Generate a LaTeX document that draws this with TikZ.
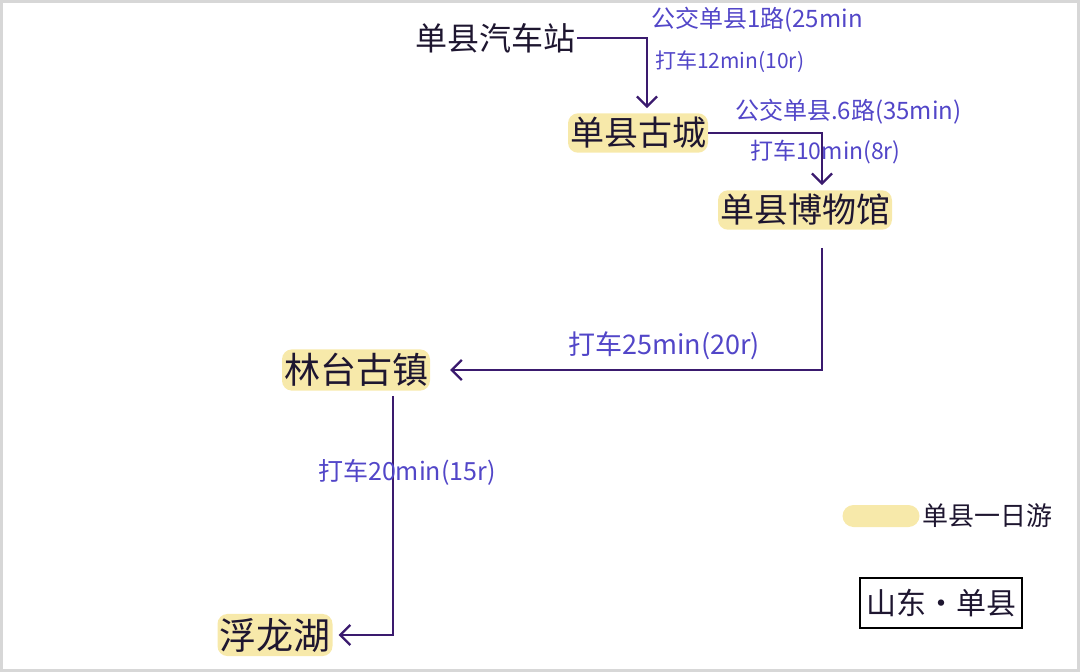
\documentclass[tikz,border=0pt]{standalone}
\usepackage{fontspec}
\setmainfont{Noto Sans CJK SC}
\usetikzlibrary{arrows.meta}
\definecolor{ink}{RGB}{30,22,48}
\definecolor{pen}{RGB}{82,70,200}
\definecolor{linec}{RGB}{58,26,110}
\definecolor{hl}{RGB}{247,233,170}
\definecolor{framec}{RGB}{215,215,215}
\begin{document}
\begin{tikzpicture}[x=1pt,y=-1pt,
  place/.style={text=ink,font=\fontsize{34}{36}\selectfont,inner xsep=2pt,inner ysep=4pt},
  hplace/.style={place,fill=hl,rounded corners=10pt},
  lbl/.style={text=pen,inner sep=0pt,anchor=west},
  conn/.style={draw=linec,line width=2.3pt,-{Straight Barb[length=10pt,width=20pt,line width=2.3pt]}}]
\useasboundingbox (0,0) rectangle (1080,672);
\draw[draw=framec,line width=3pt] (1.5,1.5) rectangle (1078.5,670.5);
% places
\node[place,font=\fontsize{32}{34}\selectfont] (station) at (495,38) {单县汽车站};
\node[hplace] (oldcity) at (638,133) {单县古城};
\node[hplace] (museum) at (805,210) {单县博物馆};
\node[hplace,font=\fontsize{36}{38}\selectfont] (lintai) at (356,370) {林台古镇};
\node[hplace,font=\fontsize{37}{39}\selectfont] (fulong) at (275,635) {浮龙湖};
% connectors
\draw[conn] (station.east) -| ([xshift=9pt,yshift=5pt]oldcity.north);
\draw[conn] (oldcity.east) -| ([xshift=17pt,yshift=5pt]museum.north);
\draw[conn] ([xshift=17pt,yshift=-18pt]museum.south) |- ([xshift=20pt]lintai.east);
\draw[conn] ([xshift=37pt,yshift=-5pt]lintai.south) |- ([xshift=6pt]fulong.east);
% labels
\node[lbl,font=\fontsize{24}{26}\selectfont] (l1a) at (651,20) {公交单县1路(25min};
\node[lbl,font=\fontsize{21}{23}\selectfont] (l1b) at (655,62) {打车12min(10r)};
\node[lbl,font=\fontsize{24}{26}\selectfont] (l2a) at (735,112) {公交单县.6路(35min)};
\node[lbl,font=\fontsize{23}{25}\selectfont] (l2b) at (750,152) {打车10min(8r)};
\node[lbl,font=\fontsize{27}{29}\selectfont] (l3) at (568,346) {打车25min(20r)};
\node[lbl,font=\fontsize{25}{27}\selectfont] (l4) at (318,472) {打车20min(15r)};
% legend
\node[fill=hl,rounded corners=11pt,minimum width=77pt,minimum height=22pt,inner sep=0pt] (legbar) at (881,516) {};
\node[text=ink,font=\fontsize{26}{28}\selectfont,anchor=west,inner sep=0pt] (legtext) at (922,516) {单县一日游};
% title box
\node[draw=black,line width=2pt,minimum width=162pt,minimum height=50pt,inner sep=0pt,text=ink,font=\fontsize{30}{32}\selectfont] (title) at (941,603) {山东·单县};
\end{tikzpicture}
\end{document}
